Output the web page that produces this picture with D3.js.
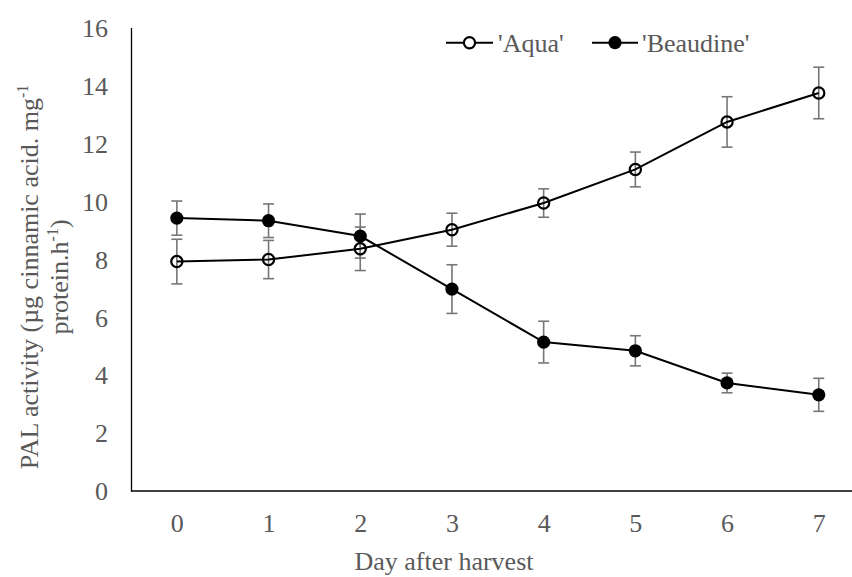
<!DOCTYPE html>
<html>
<head>
<meta charset="utf-8">
<script src="https://cdn.jsdelivr.net/npm/d3@7"></script>
<style>
  html, body { margin: 0; padding: 0; background: #fff; }
  svg text { font-family: "Liberation Serif", "Times New Roman", serif; fill: #595959; }
</style>
</head>
<body>
<svg id="chart" width="852" height="577"></svg>
<script>
const days = [0, 1, 2, 3, 4, 5, 6, 7];
const aquaValues = [7.92, 7.99, 8.36, 9.02, 9.94, 11.1, 12.74, 13.74];
const aquaErrors = [0.77, 0.66, 0.75, 0.57, 0.49, 0.6, 0.87, 0.89];
const beaudineValues = [9.42, 9.33, 8.8, 6.97, 5.14, 4.84, 3.73, 3.32];
const beaudineErrors = [0.59, 0.58, 0.76, 0.84, 0.72, 0.52, 0.34, 0.57];
const yTicks = [0, 2, 4, 6, 8, 10, 12, 14, 16];
const seriesNames = ["'Aqua'", "'Beaudine'"];

const svg = d3.select("#chart");
const x = d3.scaleLinear().domain([-0.5, 7.5]).range([131, 864.6]);
const y = d3.scaleLinear().domain([0, 16]).range([491, 27.5]);

// Y axis
const yAxis = svg.append("g").attr("transform", "translate(131,0)")
  .call(d3.axisLeft(y).tickValues(yTicks).tickSize(0).tickPadding(23).tickFormat(d3.format("d")));
yAxis.select(".domain").attr("stroke", "#000").attr("stroke-width", 1.3);
yAxis.selectAll("text").attr("font-size", 26).attr("fill", "#595959").attr("dy", "0.34em")
  .style("font-family", "'Liberation Serif', serif");

// X axis
const xAxis = svg.append("g").attr("transform", "translate(0,491)")
  .call(d3.axisBottom(x).tickValues(days).tickSize(0).tickPadding(0).tickFormat(d3.format("d")));
xAxis.select(".domain").attr("d", "M131,0H852").attr("stroke", "#000").attr("stroke-width", 1.3);
xAxis.selectAll("text").attr("font-size", 26).attr("fill", "#595959").attr("dy", null).attr("y", 41)
  .style("font-family", "'Liberation Serif', serif");

// Axis titles
svg.append("text").attr("x", 444).attr("y", 570).attr("text-anchor", "middle")
  .attr("font-size", 26).text("Day after harvest");

const yt = svg.append("text").attr("transform", "translate(0,277) rotate(-90)")
  .attr("text-anchor", "middle").attr("font-size", 26);
const l1 = yt.append("tspan").attr("x", 0).attr("y", 38);
l1.append("tspan").text("PAL activity (µg cinnamic acid. mg");
l1.append("tspan").attr("font-size", 16).attr("dy", -10).text("-1");
const l2 = yt.append("tspan").attr("x", 0).attr("y", 68);
l2.append("tspan").text("protein.h");
l2.append("tspan").attr("font-size", 16).attr("dy", -10).text("-1");
l2.append("tspan").attr("dy", 10).text(")");

const series = [
  { name: seriesNames[0], values: aquaValues, errors: aquaErrors, filled: false },
  { name: seriesNames[1], values: beaudineValues, errors: beaudineErrors, filled: true }
];

const line = d3.line().x((d, i) => x(days[i])).y(d => y(d));

// Error bars
series.forEach(s => {
  const g = svg.append("g").attr("stroke", "#767676").attr("stroke-width", 1.6).attr("fill", "none");
  s.values.forEach((v, i) => {
    const cx = x(days[i]);
    const top = y(v + s.errors[i]), bot = y(v - s.errors[i]);
    g.append("line").attr("x1", cx).attr("x2", cx).attr("y1", top).attr("y2", bot);
    g.append("line").attr("x1", cx - 5.5).attr("x2", cx + 5.5).attr("y1", top).attr("y2", top);
    g.append("line").attr("x1", cx - 5.5).attr("x2", cx + 5.5).attr("y1", bot).attr("y2", bot);
  });
});

// Lines
series.forEach(s => {
  svg.append("path").datum(s.values).attr("d", line)
    .attr("fill", "none").attr("stroke", "#000").attr("stroke-width", 2);
});

// Markers
series.forEach(s => {
  svg.append("g").selectAll("circle").data(s.values).join("circle")
    .attr("cx", (d, i) => x(days[i])).attr("cy", d => y(d))
    .attr("r", s.filled ? 6.6 : 5.6)
    .attr("fill", s.filled ? "#000" : "none")
    .attr("stroke", "#000").attr("stroke-width", s.filled ? 0 : 2.2);
});

// Legend
const legendItems = [
  { x1: 446, x2: 493, tx: 498, s: series[0] },
  { x1: 592, x2: 638, tx: 642, s: series[1] }
];
const ly = 42.7;
legendItems.forEach(it => {
  const g = svg.append("g");
  g.append("line").attr("x1", it.x1).attr("x2", it.x2).attr("y1", ly).attr("y2", ly)
    .attr("stroke", "#000").attr("stroke-width", 2);
  g.append("circle").attr("cx", (it.x1 + it.x2) / 2).attr("cy", ly)
    .attr("r", it.s.filled ? 6.6 : 5.6)
    .attr("fill", it.s.filled ? "#000" : "#fff")
    .attr("stroke", "#000").attr("stroke-width", it.s.filled ? 0 : 2.2);
  g.append("text").attr("x", it.tx).attr("y", ly).attr("dy", "0.34em")
    .attr("font-size", 26).text(it.s.name);
});
</script>
</body>
</html>
